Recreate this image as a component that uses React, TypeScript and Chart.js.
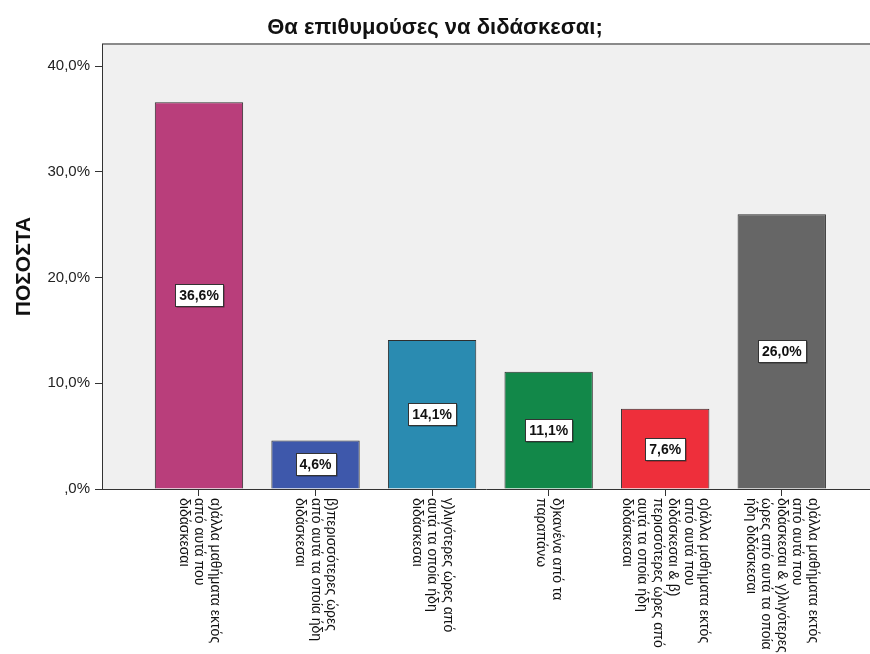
import React, { useEffect, useRef } from "react";
import { Chart, registerables } from "chart.js";

Chart.register(...registerables);

const TITLE = "Θα επιθυμούσες να διδάσκεσαι;";
const Y_TITLE = "ΠΟΣΟΣΤΑ";

const CATEGORY_LABELS: string[][] = [
  ["α)άλλα μαθήματα εκτός", "από αυτά που", "διδάσκεσαι"],
  ["β)περισσότερες ώρες", "από αυτά τα οποία ήδη", "διδάσκεσαι"],
  ["γ)λιγότερες ώρες από", "αυτά τα οποία ήδη", "διδάσκεσαι"],
  ["δ)κανένα από τα", "παραπάνω"],
  [
    "α)άλλα μαθήματα εκτός",
    "από αυτά που",
    "διδάσκεσαι & β)",
    "περισσότερες ώρες από",
    "αυτά τα οποία ήδη",
    "διδάσκεσαι",
  ],
  [
    "α)άλλα μαθήματα εκτός",
    "από αυτά που",
    "διδάσκεσαι & γ)λιγότερες",
    "ώρες από αυτά τα οποία",
    "ήδη διδάσκεσαι",
  ],
];

const PERCENTAGES: number[] = [36.6, 4.6, 14.1, 11.1, 7.6, 26.0];

const BAR_COLORS: string[] = ["#B93E7B", "#3E58AB", "#2A8BB1", "#128849", "#EE2F3B", "#666666"];

const Y_TICKS: number[] = [0, 10, 20, 30, 40];

const FONT = "'Liberation Sans', Arial, sans-serif";

function fmtPct(v: number): string {
  return v === 0 ? ",0%" : v.toFixed(1).replace(".", ",") + "%";
}

const plotBackground = {
  id: "plotBackground",
  beforeDraw(chart: any) {
    const { ctx, chartArea: a } = chart;
    ctx.save();
    ctx.fillStyle = "#F0F0F0";
    ctx.fillRect(a.left, a.top, a.right - a.left, a.bottom - a.top);
    ctx.strokeStyle = "#8A8A8A";
    ctx.lineWidth = 2;
    ctx.beginPath();
    ctx.moveTo(a.left, a.top);
    ctx.lineTo(a.right, a.top);
    ctx.stroke();
    ctx.restore();
  },
};

const valueLabels = {
  id: "valueLabels",
  afterDatasetsDraw(chart: any) {
    const { ctx } = chart;
    const meta = chart.getDatasetMeta(0);
    ctx.save();
    ctx.font = `bold 14px ${FONT}`;
    ctx.textAlign = "center";
    ctx.textBaseline = "middle";
    meta.data.forEach((bar: any, i: number) => {
      const { x, y, base } = bar.getProps(["x", "y", "base"], true);
      const cy = Math.round((y + base) / 2);
      const text = fmtPct(PERCENTAGES[i]);
      const w = Math.round(ctx.measureText(text).width + 8);
      const h = 22;
      const left = Math.round(x - w / 2) + 0.5;
      const top = Math.round(cy - h / 2) + 0.5;
      ctx.fillStyle = "rgba(0,0,0,0.45)";
      ctx.fillRect(left + 1, top + 1, w, h);
      ctx.fillStyle = "#FFFFFF";
      ctx.fillRect(left, top, w, h);
      ctx.strokeStyle = "#333333";
      ctx.lineWidth = 1;
      ctx.strokeRect(left, top, w, h);
      ctx.fillStyle = "#111111";
      ctx.fillText(text, x, cy + 1);
    });
    ctx.restore();
  },
};

const categoryLabels = {
  id: "categoryLabels",
  afterDraw(chart: any) {
    const { ctx, chartArea } = chart;
    const xScale = chart.scales.x;
    const lineHeight = 15.5;
    ctx.save();
    ctx.font = `14px ${FONT}`;
    ctx.fillStyle = "#111111";
    ctx.textAlign = "left";
    ctx.textBaseline = "middle";
    CATEGORY_LABELS.forEach((lines, i) => {
      const cx = xScale.getPixelForValue(i);
      ctx.save();
      ctx.translate(cx, chartArea.bottom + 9);
      ctx.rotate(Math.PI / 2);
      const n = lines.length;
      lines.forEach((line, j) => {
        const ly = (j - (n - 1) / 2) * lineHeight;
        ctx.fillText(line, 0, ly);
      });
      ctx.restore();
    });
    ctx.restore();
  },
};

export default function App() {
  const canvasRef = useRef<HTMLCanvasElement | null>(null);

  useEffect(() => {
    document.body.style.margin = "0";
    const canvas = canvasRef.current;
    if (!canvas) return;
    const chart = new Chart(canvas, {
      type: "bar",
      data: {
        datasets: [
          {
            data: PERCENTAGES.map((v, i) => ({ x: i, y: v })),
            backgroundColor: BAR_COLORS,
            borderColor: "#2E2E2E",
            borderWidth: 1,
            categoryPercentage: 1,
            barPercentage: 0.758,
          },
        ],
      },
      options: {
        responsive: false,
        animation: false,
        devicePixelRatio: 1,
        layout: { padding: 0 },
        plugins: {
          legend: { display: false },
          tooltip: { enabled: false },
          title: {
            display: true,
            text: TITLE,
            color: "#111111",
            font: { family: FONT, size: 22, weight: "bold" },
            padding: { top: 14.5, bottom: 3.1 },
          },
        },
        scales: {
          x: {
            type: "linear",
            offset: false,
            min: -0.832,
            max: 5.757,
            afterBuildTicks: (scale: any) => {
              scale.ticks = CATEGORY_LABELS.map((_, i) => ({ value: i }));
            },
            afterFit: (scale: any) => {
              scale.height = 165;
            },
            ticks: { display: false },
            grid: {
              offset: false,
              drawOnChartArea: false,
              drawTicks: true,
              tickLength: 7,
              color: "#333333",
            },
            border: { display: true, color: "#333333", width: 1 },
          },
          y: {
            type: "linear",
            min: 0,
            max: 42.1,
            afterBuildTicks: (scale: any) => {
              scale.ticks = Y_TICKS.map((v) => ({ value: v }));
            },
            afterFit: (scale: any) => {
              scale.width = 102;
            },
            ticks: {
              callback: (v: any) => fmtPct(Number(v)),
              color: "#222222",
              font: { family: FONT, size: 15 },
              padding: 5,
            },
            grid: {
              drawOnChartArea: false,
              drawTicks: true,
              tickLength: 7,
              color: "#333333",
            },
            border: { display: true, color: "#333333", width: 1 },
            title: {
              display: true,
              text: Y_TITLE,
              color: "#111111",
              font: { family: FONT, size: 21, weight: "bold" },
              padding: { top: 12, bottom: 0 },
            },
          },
        },
      },
      plugins: [plotBackground, valueLabels, categoryLabels],
    } as any);
    return () => chart.destroy();
  }, []);

  return (
    <div style={{ position: "absolute", left: 0, top: 0, width: 870, height: 654 }}>
      <canvas ref={canvasRef} width={870} height={654} />
    </div>
  );
}
